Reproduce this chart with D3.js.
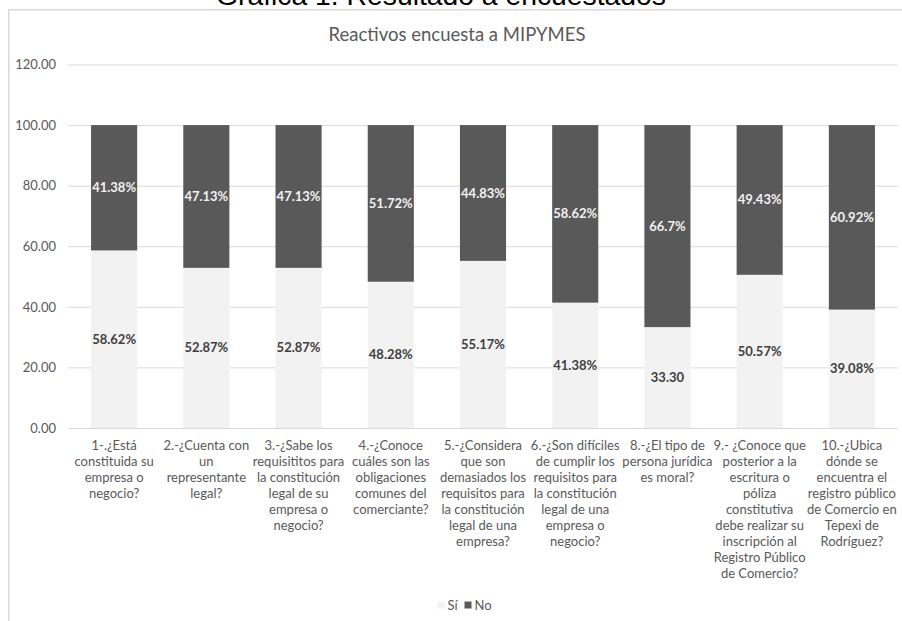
<!DOCTYPE html>
<html>
<head>
<meta charset="utf-8">
<script src="https://cdn.jsdelivr.net/npm/d3@7"></script>
<style>
  body { margin: 0; background: #fff; }
  svg { display: block; font-family: Lato, "Open Sans", sans-serif; }
</style>
</head>
<body>
<div id="chart"></div>
<script>
// categories (wrapped as in the original)
var categories = ["1", "2", "3", "4", "5", "6", "8", "9", "10"];
var categoryLines = [
  ["1-.¿Está", "constituida su", "empresa o", "negocio?"],
  ["2.-¿Cuenta con", "un", "representante", "legal?"],
  ["3.-¿Sabe los", "requisititos para", "la constitución", "legal de su", "empresa o", "negocio?"],
  ["4.-¿Conoce", "cuáles son las", "obligaciones", "comunes del", "comerciante?"],
  ["5.-¿Considera", "que son", "demasiados los", "requisitos para", "la constitución", "legal de una", "empresa?"],
  ["6.-¿Son difíciles", "de cumplir los", "requisitos para", "la constitución", "legal de una", "empresa o", "negocio?"],
  ["8.-¿El tipo de", "persona jurídica", "es moral?"],
  ["9.- ¿Conoce que", "posterior a la", "escritura o", "póliza", "constitutiva", "debe realizar su", "inscripción al", "Registro Público", "de Comercio?"],
  ["10.-¿Ubica", "dónde se", "encuentra el", "registro público", "de Comercio en", "Tepexi de", "Rodríguez?"]
];
var si = [58.62, 52.87, 52.87, 48.28, 55.17, 41.38, 33.30, 50.57, 39.08];
var no = [41.38, 47.13, 47.13, 51.72, 44.83, 58.62, 66.7, 49.43, 60.92];
var siLabels = ["58.62%", "52.87%", "52.87%", "48.28%", "55.17%", "41.38%", "33.30", "50.57%", "39.08%"];
var noLabels = ["41.38%", "47.13%", "47.13%", "51.72%", "44.83%", "58.62%", "66.7%", "49.43%", "60.92%"];
var yTicks = [0, 20, 40, 60, 80, 100, 120];
var seriesNames = ["Sí", "No"];
var colors = { "Sí": "#f2f2f2", "No": "#595959" };

var W = 902, H = 621;
var margin = { left: 68, right: 4 };

var svg = d3.select("#chart").append("svg").attr("width", W).attr("height", H);

// page heading above the chart box (cut off at the top, as in the source)
var heading = svg.append("text")
  .attr("x", 441).attr("y", 5)
  .attr("text-anchor", "middle")
  .style("font-family", "Liberation Sans, Arial, sans-serif")
  .style("font-size", "20px")
  .attr("fill", "#000")
  .text("Gráfica 1. Resultado a encuestados");
var hw = heading.node().getComputedTextLength();
heading.style("font-size", (20 * 450 / hw) + "px");

// chart border
svg.append("rect")
  .attr("x", 8.75).attr("y", 9.75)
  .attr("width", W + 20).attr("height", H + 20)
  .attr("fill", "#fff")
  .attr("stroke", "#d9d9d9").attr("stroke-width", 1.5);

svg.append("text")
  .attr("x", 457).attr("y", 41)
  .attr("text-anchor", "middle")
  .attr("fill", "#595959")
  .style("font-size", "18.5px")
  .text("Reactivos encuesta a MIPYMES");

var y = d3.scaleLinear().domain([0, 120]).range([428, 64.5]);
var x = d3.scaleBand().domain(categories).range([margin.left, W - margin.right]).padding(0.5).paddingOuter(0.25);

// gridlines + y labels
var yAxis = d3.axisLeft(y).tickValues(yTicks).tickSize(-(W - margin.right - margin.left)).tickFormat(d3.format(".2f"));
var gy = svg.append("g").attr("transform", "translate(" + margin.left + ",0)").call(yAxis);
gy.select(".domain").remove();
gy.selectAll(".tick line").attr("stroke", "#d9d9d9");
gy.selectAll(".tick text")
  .attr("x", -12)
  .attr("fill", "#595959")
  .style("font-size", "13px")
  .style("font-family", "Lato, sans-serif");

var rows = categories.map(function (c, i) {
  return { key: c, si: si[i], no: no[i], siLabel: siLabels[i], noLabel: noLabels[i], lines: categoryLines[i] };
});

var bars = svg.append("g").selectAll("g").data(rows).join("g");

bars.append("rect")
  .attr("x", function (d) { return x(d.key); })
  .attr("width", x.bandwidth())
  .attr("y", function (d) { return y(d.si); })
  .attr("height", function (d) { return y(0) - y(d.si); })
  .attr("fill", colors["Sí"]);

bars.append("rect")
  .attr("x", function (d) { return x(d.key); })
  .attr("width", x.bandwidth())
  .attr("y", function (d) { return y(d.si + d.no); })
  .attr("height", function (d) { return y(d.si) - y(d.si + d.no); })
  .attr("fill", colors["No"]);

bars.append("text")
  .attr("x", function (d) { return x(d.key) + x.bandwidth() / 2; })
  .attr("y", function (d) { return y(d.si / 2); })
  .attr("dy", "0.35em")
  .attr("text-anchor", "middle")
  .attr("fill", "#404040")
  .style("font-size", "13px")
  .style("font-weight", "bold")
  .text(function (d) { return d.siLabel; });

bars.append("text")
  .attr("x", function (d) { return x(d.key) + x.bandwidth() / 2; })
  .attr("y", function (d) { return y(d.si + d.no / 2); })
  .attr("dy", "0.35em")
  .attr("text-anchor", "middle")
  .attr("fill", "#f2f2f2")
  .style("font-size", "13px")
  .style("font-weight", "bold")
  .text(function (d) { return d.noLabel; });

// category labels
var cat = svg.append("g").selectAll("text").data(rows).join("text")
  .attr("text-anchor", "middle")
  .attr("fill", "#595959")
  .style("font-size", "13px");
cat.selectAll("tspan").data(function (d) { return d.lines.map(function (l) { return { l: l, k: d.key }; }); })
  .join("tspan")
  .attr("x", function (d) { return x(d.k) + x.bandwidth() / 2; })
  .attr("y", function (d, i) { return 449.5 + i * 16; })
  .text(function (d) { return d.l; });

// legend
var legX = { "Sí": 437.5, "No": 464.5 };
var leg = svg.append("g").selectAll("g").data(seriesNames).join("g")
  .attr("transform", function (d) { return "translate(" + legX[d] + ",601.5)"; });
leg.append("rect").attr("width", 7).attr("height", 7).attr("fill", function (d) { return colors[d]; });
leg.append("text").attr("x", 10).attr("y", 3.5).attr("dy", "0.35em")
  .attr("fill", "#595959").style("font-size", "13px")
  .text(function (d) { return d; });
</script>
</body>
</html>
